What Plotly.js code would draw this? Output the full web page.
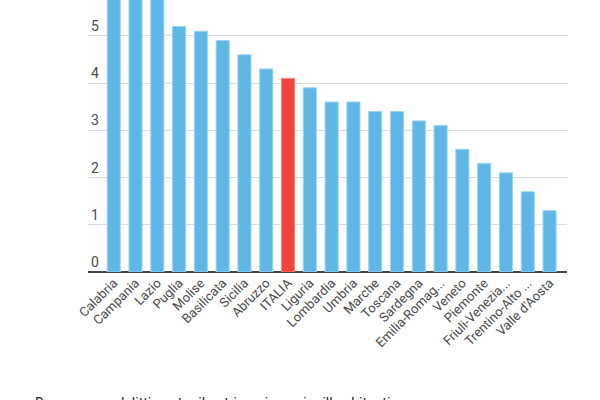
<!DOCTYPE html>
<html>
<head>
<meta charset="utf-8">
<script src="https://cdn.plot.ly/plotly-3.0.1.min.js"></script>
<style>html,body{margin:0;padding:0;background:#fff;}#chart{width:600px;height:400px;}</style>
</head>
<body>
<div id="chart"></div>
<script>
var regions = ["Calabria","Campania","Lazio","Puglia","Molise","Basilicata","Sicilia","Abruzzo","ITALIA","Liguria","Lombardia","Umbria","Marche","Toscana","Sardegna","Emilia-Romag...","Veneto","Piemonte","Friuli-Venezia...","Trentino-Alto ...","Valle d'Aosta"];
var values = [6.4, 6.2, 6.0, 5.2, 5.1, 4.9, 4.6, 4.3, 4.1, 3.9, 3.6, 3.6, 3.4, 3.4, 3.2, 3.1, 2.6, 2.3, 2.1, 1.7, 1.3];
var highlight = "ITALIA";
var yTicks = [0, 1, 2, 3, 4, 5];
var caption = "Denunce per delitti contro il patrimonio ogni mille abitanti";

var blue = "#5fb7e5", red = "#ef463c";
var colors = regions.map(function(r){ return r === highlight ? red : blue; });
var lines = regions.map(function(r){ return r === highlight ? "#f5857d" : "#9dd3ef"; });

var trace = {
  type: "bar",
  x: regions,
  y: values,
  marker: {color: colors, line: {color: lines, width: 1}},
  hoverinfo: "x+y"
};

var layout = {
  width: 600, height: 400,
  margin: {l: 88, r: 33, t: 0, b: 127.5},
  paper_bgcolor: "#fff", plot_bgcolor: "#fff",
  bargap: 0.4,
  showlegend: false,
  font: {family: "Roboto, Arial, sans-serif", color: "#4a4a4a"},
  xaxis: {
    type: "category",
    range: [-1.18, 20.8],
    tickangle: -45,
    tickfont: {size: 13, color: "#4a4a4a"},
    showgrid: false,
    ticks: "",
    showline: false,
    zeroline: false
  },
  yaxis: {
    range: [0, 5.76],
    tickvals: yTicks,
    ticktext: yTicks.map(String),
    ticklabelposition: "inside top",
    tickfont: {size: 14, color: "#4a4a4a"},
    showgrid: true,
    gridcolor: "#dcdcdc",
    gridwidth: 1,
    zeroline: true,
    zerolinecolor: "#444",
    zerolinewidth: 2,
    showline: false,
    ticks: ""
  },
  annotations: [{
    xref: "paper", yref: "paper",
    x: (33 - 88) / 479, y: -(394 - 272.5) / 272.5,
    xanchor: "left", yanchor: "top",
    text: caption, showarrow: false,
    font: {size: 14, color: "#222", family: "Roboto, Arial, sans-serif"}
  }]
};

Plotly.newPlot("chart", [trace], layout, {displayModeBar: false, staticPlot: true});
</script>
</body>
</html>
